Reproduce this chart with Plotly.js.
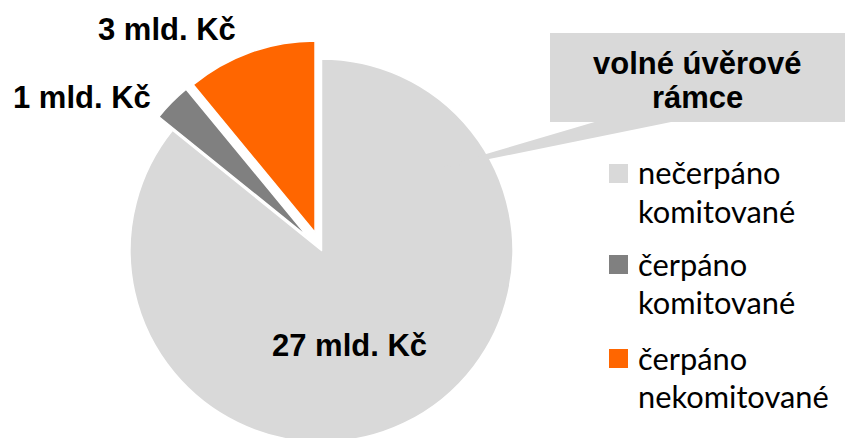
<!DOCTYPE html>
<html>
<head>
<meta charset="utf-8">
<script src="https://cdn.plot.ly/plotly-3.0.1.min.js"></script>
<style>
html, body { margin:0; padding:0; overflow:hidden; background:#fff; }
#chart { width:845px; height:470px; }
</style>
</head>
<body>
<div id="chart"></div>
<script>
// ---- data ----
const categories = ["nečerpáno komitované", "čerpáno komitované", "čerpáno nekomitované"];
const legendLines = [["nečerpáno", "komitované"], ["čerpáno", "komitované"], ["čerpáno", "nekomitované"]];
const values = [26.6, 1.0, 3.4];
const valueLabels = ["27 mld. Kč", "1 mld. Kč", "3 mld. Kč"];
const colors = ["#d9d9d9", "#808080", "#ff6600"];
const pulls = [0, 0.1, 0.1];
const calloutLines = ["volné úvěrové", "rámce"];

// ---- layout helpers (pixel -> paper) ----
const W = 845, H = 470;
const px = x => x / W;
const py = y => 1 - y / H;

const cx = 321.5, cy = 250.5, R = 191.5;
const half = R * 1.1;

const trace = {
  type: "pie",
  labels: categories,
  values: values,
  sort: false,
  direction: "clockwise",
  rotation: 0,
  pull: pulls,
  marker: { colors: colors, line: { color: "#ffffff", width: 1.5 } },
  textinfo: "none",
  hoverinfo: "label+value",
  showlegend: false,
  domain: { x: [px(cx - half), px(cx + half)], y: [py(cy + half), py(cy - half)] }
};

const numFont = { family: "Liberation Sans, Arial, sans-serif", size: 31, color: "#000" };
const legFont = { family: "Lato, sans-serif", size: 30.8, color: "#000" };

const annotations = [];
const labelPos = [[349, 345], [82, 97], [167, 29]];
valueLabels.forEach((t, i) => {
  annotations.push({ text: "<b>" + t + "</b>", x: px(labelPos[i][0]), y: py(labelPos[i][1]),
    xref: "paper", yref: "paper", showarrow: false, xanchor: "center", yanchor: "middle", font: numFont });
});
const calloutY = [63, 97];
calloutLines.forEach((t, i) => {
  annotations.push({ text: "<b>" + t + "</b>", x: px(697), y: py(calloutY[i]),
    xref: "paper", yref: "paper", showarrow: false, xanchor: "center", yanchor: "middle", font: numFont });
});

const shapes = [
  { type: "path", xref: "paper", yref: "paper",
    path: `M${px(598)},${py(121)} L${px(676)},${py(121)} L${px(425)},${py(172)} Z`,
    fillcolor: "#d9d9d9", line: { width: 0 }, layer: "above" },
  { type: "rect", xref: "paper", yref: "paper", x0: px(550), x1: px(845), y0: py(122), y1: py(33),
    fillcolor: "#d9d9d9", line: { width: 0 }, layer: "above" }
];

const legTop = [164, 255, 349];
const lineGap = 38.5;
categories.forEach((c, i) => {
  shapes.push({ type: "rect", xref: "paper", yref: "paper",
    x0: px(609), x1: px(628), y0: py(legTop[i] + 19), y1: py(legTop[i]),
    fillcolor: colors[i], line: { width: 0 } });
  legendLines[i].forEach((t, j) => {
    annotations.push({ text: t, x: px(636), y: py(legTop[i] + 9 + j * lineGap),
      xref: "paper", yref: "paper", showarrow: false, xanchor: "left", yanchor: "middle", font: legFont });
  });
});

const layout = {
  width: W, height: H,
  margin: { l: 0, r: 0, t: 0, b: 0 },
  paper_bgcolor: "#ffffff",
  showlegend: false,
  shapes: shapes,
  annotations: annotations
};

Plotly.newPlot("chart", [trace], layout, { displayModeBar: false, staticPlot: true });
</script>
</body>
</html>
